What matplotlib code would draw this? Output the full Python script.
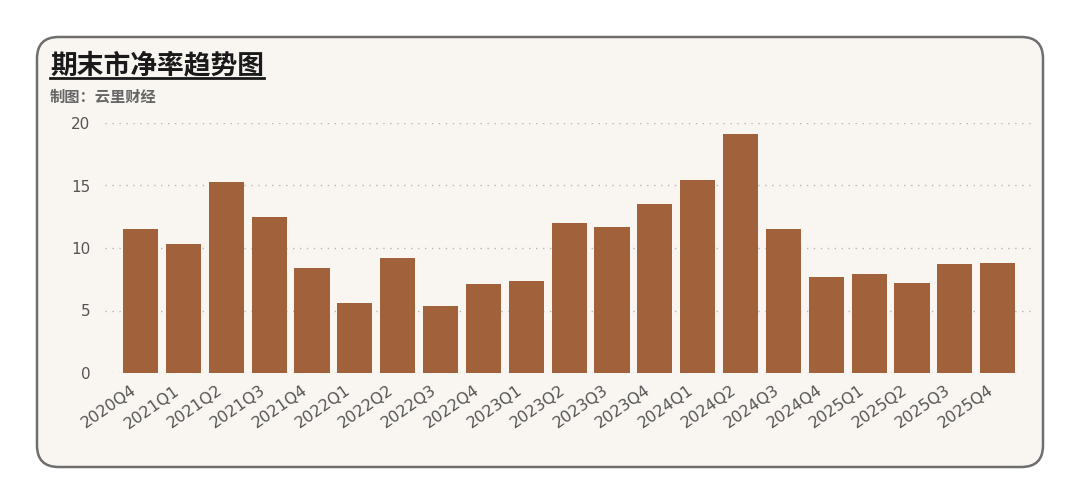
import numpy as np
import matplotlib
matplotlib.use('Agg')
import matplotlib.pyplot as plt
import matplotlib.transforms as mtransforms
from matplotlib.patches import FancyBboxPatch
from matplotlib.lines import Line2D

plt.rcParams['font.family'] = ['Noto Sans CJK SC', 'DejaVu Sans']

# data
quarters = ['2020Q4', '2021Q1', '2021Q2', '2021Q3', '2021Q4', '2022Q1', '2022Q2',
            '2022Q3', '2022Q4', '2023Q1', '2023Q2', '2023Q3', '2023Q4', '2024Q1',
            '2024Q2', '2024Q3', '2024Q4', '2025Q1', '2025Q2', '2025Q3', '2025Q4']
pb_values = [11.5, 10.3, 15.3, 12.5, 8.4, 5.6, 9.2, 5.4, 7.1, 7.4, 12.0,
             11.7, 13.5, 15.4, 19.1, 11.5, 7.7, 7.9, 7.2, 8.7, 8.8]
y_ticks = [0, 5, 10, 15, 20]

title = '期末市净率趋势图'
subtitle = '制图：云里财经'
bar_color = '#A1613A'
bg_color = '#F9F6F2'

fig = plt.figure(figsize=(10.8, 5.03), dpi=100)
fig.patch.set_facecolor('white')

# rounded card background
card = FancyBboxPatch((37/1080, 1-467/503), (1043-37)/1080, (467-37)/503,
                      boxstyle='round,pad=0,rounding_size=0.02',
                      transform=fig.transFigure, facecolor=bg_color,
                      edgecolor='#6E6E6E', linewidth=1.8, mutation_aspect=1080/503,
                      zorder=-5)
fig.patches.append(card)

ax = fig.add_axes([105/1080, 1-373/503, (1032-105)/1080, (373-123)/503])
ax.set_facecolor('none')
x = np.arange(len(quarters))
ax.bar(x, pb_values, width=0.82, color=bar_color, zorder=2)
ax.set_xlim(-0.83, len(quarters) - 1 + 0.8)
ax.set_ylim(0, 20)
ax.set_yticks(y_ticks)
ax.set_yticklabels([str(v) for v in y_ticks], family='DejaVu Sans', fontsize=11, color='#555555')
ax.set_xticks(x)
ax.set_xticklabels(quarters, rotation=35, ha='right', rotation_mode='anchor',
                   family='DejaVu Sans', fontsize=11.5, color='#555555')
ax.tick_params(axis='y', length=0, pad=10.5)
ax.tick_params(axis='x', length=0, pad=7)
# nudge the slanted labels a little left, like the reference
shift = mtransforms.ScaledTranslation(-10/100, 0, fig.dpi_scale_trans)
for lab in ax.get_xticklabels():
    lab.set_transform(lab.get_transform() + shift)
ax.grid(axis='y', linestyle=(0, (1, 4)), color='#B5B5B5', linewidth=1, zorder=3)
for s in ax.spines.values():
    s.set_visible(False)

t = fig.text(50/1080, 1-66/503, title, fontsize=19.3, fontweight='bold',
             color='#1a1a1a', va='center', ha='left')
fig.text(50/1080, 1-97/503, subtitle, fontsize=11, fontweight='bold',
         color='#666666', va='center', ha='left')

# underline the title
fig.canvas.draw()
bb = t.get_window_extent().transformed(fig.transFigure.inverted())
fig.lines.append(Line2D([bb.x0, bb.x1], [1-78.5/503, 1-78.5/503], transform=fig.transFigure,
                        color='#1a1a1a', linewidth=2))

fig.savefig('out.png', dpi=100, facecolor='white')
